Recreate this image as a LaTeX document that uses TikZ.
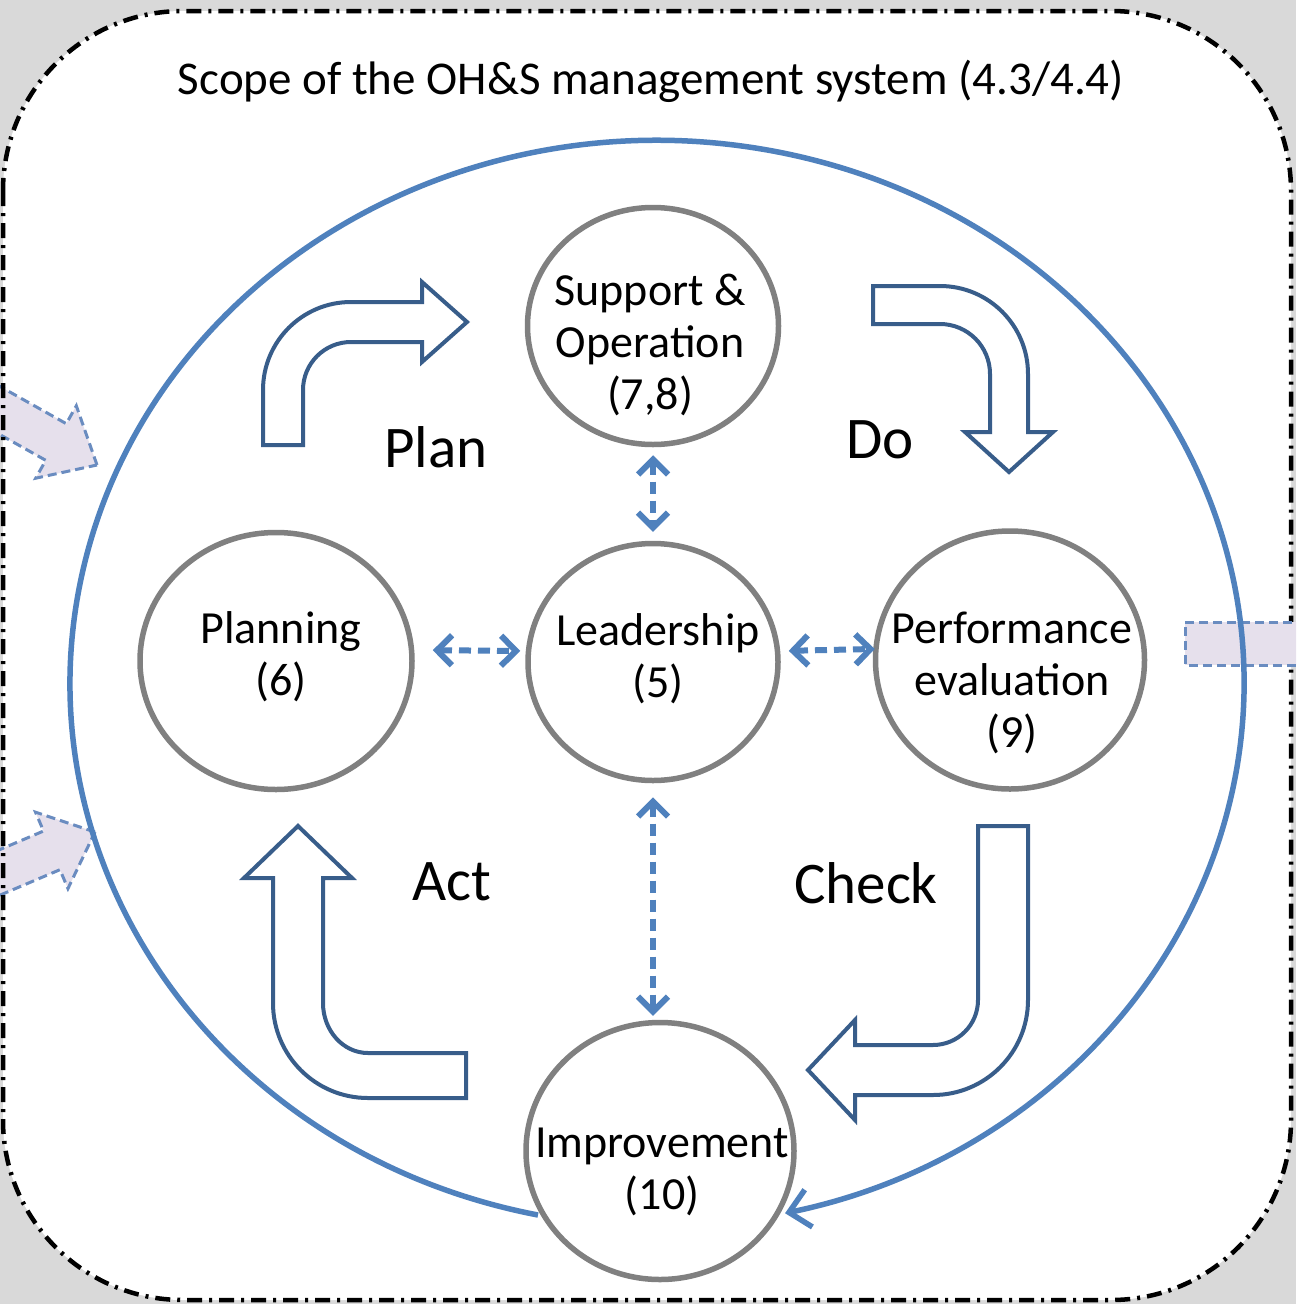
\documentclass[tikz,border=0pt]{standalone}
\usepackage{fontspec}
\setmainfont{Carlito}
\usetikzlibrary{arrows.meta,shapes.geometric,calc}
\definecolor{bgray}{HTML}{D9D9D9}
\definecolor{ublue}{HTML}{4F81BD}
\definecolor{cgray}{HTML}{808080}
\definecolor{dblue}{HTML}{385D8A}
\definecolor{lav}{HTML}{E6E0EC}
\definecolor{lavline}{HTML}{6A8CC0}
\begin{document}
\begin{tikzpicture}[x=1pt,y=-1pt,
  proc/.style={ellipse, draw=cgray, line width=5.5pt, fill=white, inner sep=0pt},
  ctext/.style={align=center, font=\fontsize{46}{52}\selectfont, inner sep=0pt},
  bigword/.style={font=\fontsize{59}{66}\selectfont, inner sep=0pt},
  bent/.style={draw=dblue, line width=4pt, fill=white, line join=miter},
  lavarrow/.style={fill=lav, draw=lavline, line width=3pt, dash pattern=on 9pt off 5pt},
  linkarrow/.style={draw=ublue, line width=6pt, dash pattern=on 12pt off 7pt,
     {Straight Barb[length=15pt,width=30pt]}-{Straight Barb[length=15pt,width=30pt]}},
  cyclearrow/.style={draw=ublue, line width=5.5pt, -{Straight Barb[length=20pt,width=38pt]}}]
\useasboundingbox (0,0) rectangle (1296,1304);
\fill[bgray] (0,0) rectangle (1296,1304);
\fill[white, rounded corners=180pt] (3,11) rectangle (1291,1300);
% incoming arrows (left)
\begin{scope}
\clip (0,0) rectangle (1296,1304);
\begin{scope}[shift={(97,465)}, rotate=-29.3]
\draw[lavarrow] (0,0) -- (-47,-41.5) -- (-47,-21) -- (-220,-21) -- (-220,21) -- (-47,21) -- (-47,41.5) -- cycle;
\end{scope}
\begin{scope}[shift={(95,832)}, rotate=23]
\draw[lavarrow] (0,0) -- (-47,-41.5) -- (-47,-21) -- (-220,-21) -- (-220,21) -- (-47,21) -- (-47,41.5) -- cycle;
\end{scope}
\end{scope}
% scope border
\draw[black, line width=4.5pt, dash pattern=on 15pt off 7pt on 3pt off 7pt, rounded corners=180pt] (3,11) rectangle (1291,1300);
% outgoing arrow (right)
\begin{scope}
\clip (0,0) rectangle (1296,1304);
\filldraw[lavarrow] (1320,622) -- (1185,622) -- (1185,665) -- (1320,665);
\end{scope}
% title
\node[ctext, font=\fontsize{47}{52}\selectfont] (title) at (651,81) {Scope of the OH\&S management system (4.3/4.4)};
% PDCA cycle
\coordinate (cycS) at (538,1215);
\draw[cyclearrow] (cycS) arc[start angle=101.7, end angle=437.4, x radius=587, y radius=543];
% process circles
\node[proc, minimum width=251pt, minimum height=237pt] (sup) at (653,326) {};
\node[proc, minimum width=272pt, minimum height=257pt] (plan) at (276,661) {};
\node[proc, minimum width=250pt, minimum height=237pt] (lead) at (653,662) {};
\node[proc, minimum width=269pt, minimum height=258pt] (perf) at (1010,660) {};
\node[proc, minimum width=268pt, minimum height=257pt] (imp) at (660,1151) {};
\node[ctext] (tsup) at (650,345) {Support \&\\Operation\\(7,8)};
\node[ctext] (tplan) at (281,657) {Planning\\(6)};
\node[ctext] (tlead) at (658,659) {Leadership\\(5)};
\node[ctext] (tperf) at (1012,683) {Performance\\evaluation\\(9)};
\node[ctext] (timp) at (662,1172) {Improvement\\(10)};
% bent arrows
\draw[bent] (263,445) -- (263,390) arc[start angle=180, end angle=270, radius=88] -- (422,302) -- (422,282) -- (467,322) -- (422,362) -- (422,342) -- (351,342) arc[start angle=270, end angle=180, radius=48] -- (303,445) -- cycle;
\draw[bent] (873,286) -- (940,286) arc[start angle=270, end angle=360, radius=88] -- (1028,432) -- (1053,432) -- (1009,472) -- (965,432) -- (990,432) -- (990,374) arc[start angle=0, end angle=-90, radius=50] -- (873,324) -- cycle;
\draw[bent] (1028,826) -- (1028,1000) arc[start angle=0, end angle=90, radius=95] -- (855,1095) -- (855,1120) -- (808,1070) -- (855,1020) -- (855,1045) -- (933,1045) arc[start angle=90, end angle=0, radius=45] -- (978,826) -- cycle;
\draw[bent] (466,1098) -- (368,1098) arc[start angle=90, end angle=180, radius=95] -- (273,878) -- (244,878) -- (298,826) -- (352,878) -- (323,878) -- (323,1003) arc[start angle=180, end angle=90, x radius=45, y radius=50] -- (466,1053) -- cycle;
% PDCA words
\node[bigword] (wplan) at (436,447) {Plan};
\node[bigword] (wdo) at (880,440) {Do};
\node[bigword] (wact) at (452,882) {Act};
\node[bigword] (wcheck) at (866,883) {Check};
% links to leadership
\draw[linkarrow, shorten <=8pt, shorten >=9pt] (sup.south) -- (lead.north);
\draw[linkarrow, shorten <=18pt, shorten >=5pt] ([yshift=11pt]plan.east) -- ([yshift=11pt]lead.west);
\draw[linkarrow, shorten <=8pt, shorten >=-2pt] ([yshift=11pt]lead.east) -- ([yshift=11pt]perf.west);
\draw[linkarrow, shorten <=14pt, shorten >=4pt] (lead.south) -- (lead.south |- imp.north);
\end{tikzpicture}
\end{document}
